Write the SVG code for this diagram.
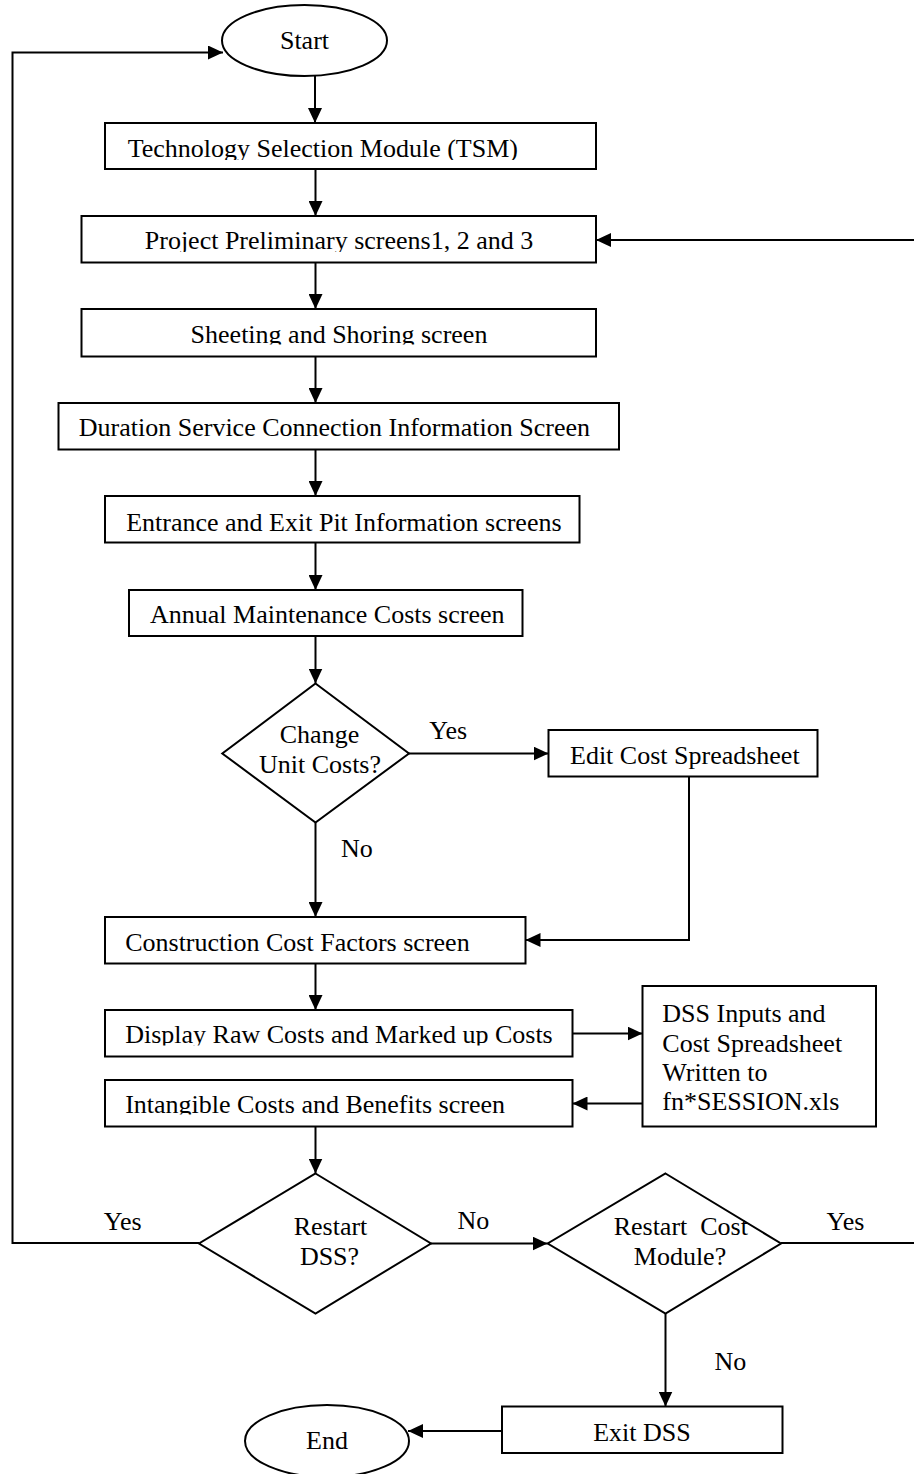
<svg xmlns="http://www.w3.org/2000/svg" width="914" height="1474" viewBox="0 0 914 1474">
<style>
.n{fill:#fff;stroke:#000;stroke-width:2}
.t{font-family:"Liberation Serif","Times New Roman",serif;font-size:26px;fill:#000}
.m{text-anchor:middle}
.c{fill:none;stroke:#000;stroke-width:2}
</style>
<defs>
<marker id="ah" markerUnits="userSpaceOnUse" markerWidth="15" markerHeight="14" refX="15" refY="7" orient="auto">
<path d="M0,0 L15,7 L0,14 z" fill="#000"/>
</marker>
<clipPath id="cTSM"><rect x="105" y="123" width="491" height="37"/></clipPath>
<clipPath id="cPP"><rect x="81" y="216" width="515" height="36"/></clipPath>
<clipPath id="cSS"><rect x="81" y="309" width="515" height="35.5"/></clipPath>
<clipPath id="cDR"><rect x="105" y="1010" width="467" height="35.5"/></clipPath>
<clipPath id="cIC"><rect x="105" y="1080" width="467" height="34.5"/></clipPath>
</defs>
<rect width="914" height="1474" fill="#fff"/>
<g id="connectors">
<path class="c" d="M315,76 V123" marker-end="url(#ah)"/>
<path class="c" d="M315.5,169 V216" marker-end="url(#ah)"/>
<path class="c" d="M315.5,263 V309" marker-end="url(#ah)"/>
<path class="c" d="M315.5,357 V403" marker-end="url(#ah)"/>
<path class="c" d="M315.5,449 V496" marker-end="url(#ah)"/>
<path class="c" d="M315.5,543 V590" marker-end="url(#ah)"/>
<path class="c" d="M315.5,636 V683.5" marker-end="url(#ah)"/>
<path class="c" d="M409,753.5 H548.5" marker-end="url(#ah)"/>
<path class="c" d="M315.5,822.5 V917" marker-end="url(#ah)"/>
<path class="c" d="M689,776.5 V940 H525.5" marker-end="url(#ah)"/>
<path class="c" d="M315.5,963.5 V1010" marker-end="url(#ah)"/>
<path class="c" d="M572.5,1033.5 H642.5" marker-end="url(#ah)"/>
<path class="c" d="M642.5,1103.5 H572.5" marker-end="url(#ah)"/>
<path class="c" d="M315.5,1126.5 V1173.5" marker-end="url(#ah)"/>
<path class="c" d="M199,1243 H12.5 V52.5 H223" marker-end="url(#ah)"/>
<path class="c" d="M431,1243.5 H547.5" marker-end="url(#ah)"/>
<path class="c" d="M781,1243 H916 V240 H596" marker-end="url(#ah)"/>
<path class="c" d="M665.5,1313.5 V1406.5" marker-end="url(#ah)"/>
<path class="c" d="M502,1431 H408" marker-end="url(#ah)"/>
</g>
<g id="start"><ellipse class="n" cx="304.5" cy="40.5" rx="82.5" ry="35.5"/><text class="t m" x="304.5" y="48.5">Start</text></g>
<g id="tsm"><rect class="n" x="105" y="123" width="491" height="46"/><text class="t" x="127.7" y="156.7" clip-path="url(#cTSM)">Technology Selection Module (TSM)</text></g>
<g id="project"><rect class="n" x="81.5" y="216" width="514.5" height="46.5"/><text class="t m" x="339" y="249.3" clip-path="url(#cPP)">Project Preliminary screens1, 2 and 3</text></g>
<g id="sheeting"><rect class="n" x="81.5" y="309" width="514.5" height="47.5"/><text class="t m" x="339" y="342.7" clip-path="url(#cSS)">Sheeting and Shoring screen</text></g>
<g id="duration"><rect class="n" x="58.5" y="403" width="560.5" height="46.5"/><text class="t" x="78.8" y="436">Duration Service Connection Information Screen</text></g>
<g id="entrance"><rect class="n" x="105" y="496" width="474.5" height="46.5"/><text class="t" x="126.2" y="530.7">Entrance and Exit Pit Information screens</text></g>
<g id="annual"><rect class="n" x="129" y="590" width="393.5" height="46"/><text class="t" x="150" y="623.3">Annual Maintenance Costs screen</text></g>
<g id="change"><polygon class="n" points="315.5,683.5 409,753.5 315.5,822.5 222.3,753.5"/><text class="t m" x="319.5" y="743.3">Change</text><text class="t m" x="320" y="773.3">Unit Costs?</text></g>
<g id="edit"><rect class="n" x="548.5" y="730" width="269" height="46.5"/><text class="t" x="570" y="763.5">Edit Cost Spreadsheet</text></g>
<g id="construction"><rect class="n" x="105" y="917" width="420.5" height="46.5"/><text class="t" x="125.2" y="950.7">Construction Cost Factors screen</text></g>
<g id="display"><rect class="n" x="105" y="1010" width="467.5" height="46.5"/><text class="t" x="125.2" y="1042.7" clip-path="url(#cDR)">Display Raw Costs and Marked up Costs</text></g>
<g id="dssfile"><rect class="n" x="642.5" y="986" width="233.5" height="140.5"/><text class="t" x="662.3" y="1021.7">DSS Inputs and</text><text class="t" x="662.3" y="1051.5">Cost Spreadsheet</text><text class="t" x="662.3" y="1081">Written to</text><text class="t" x="662.3" y="1110">fn*SESSION.xls</text></g>
<g id="intangible"><rect class="n" x="105" y="1080" width="467.5" height="46.5"/><text class="t" x="125.2" y="1113.3" clip-path="url(#cIC)">Intangible Costs and Benefits screen</text></g>
<g id="restartdss"><polygon class="n" points="315.5,1173.5 431,1243.5 315.5,1313.5 199,1243.5"/><text class="t m" x="330.5" y="1235">Restart</text><text class="t m" x="329.5" y="1265">DSS?</text></g>
<g id="restartcost"><polygon class="n" points="665.5,1173.5 781,1243.5 665.5,1313.5 547.7,1243.5"/><text class="t m" x="680.8" y="1235" style="white-space:pre">Restart  Cost</text><text class="t m" x="680" y="1265">Module?</text></g>
<g id="exit"><rect class="n" x="502" y="1406.5" width="280.5" height="46.5"/><text class="t m" x="642" y="1441">Exit DSS</text></g>
<g id="end"><ellipse class="n" cx="327" cy="1441" rx="82" ry="36"/><text class="t m" x="327" y="1449">End</text></g>
<g id="labels">
<text class="t" x="429.3" y="739.3">Yes</text>
<text class="t" x="341" y="856.7">No</text>
<text class="t" x="103.8" y="1230">Yes</text>
<text class="t" x="457.6" y="1229.3">No</text>
<text class="t" x="826.6" y="1230">Yes</text>
<text class="t" x="714.6" y="1370">No</text>
</g>
</svg>
